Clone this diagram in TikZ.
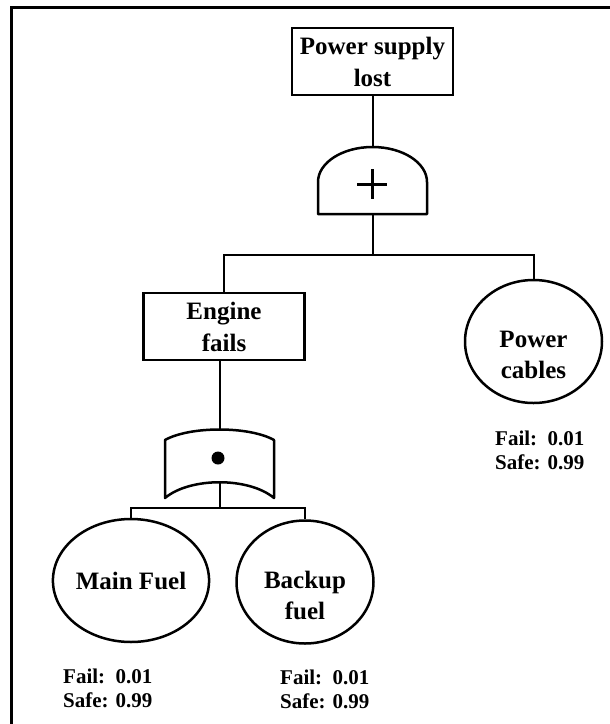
\documentclass[tikz,border=0pt]{standalone}
\usepackage{fontspec}
\setmainfont{Liberation Serif}
\usetikzlibrary{shapes.geometric}
\tikzset{
  event/.style={draw, line width=2.5pt, minimum width=161pt, minimum height=67pt, inner sep=0pt, align=center, font=\bfseries\fontsize{25}{32}\selectfont},
  basic/.style={draw, ellipse, line width=2.5pt, minimum width=137pt, minimum height=123pt, inner sep=0pt, align=center, font=\bfseries\fontsize{25}{32}\selectfont},
  word/.style={inner sep=0pt, align=center, font=\bfseries\fontsize{25}{31}\selectfont},
  gatebox/.style={minimum width=109pt, inner sep=0pt},
  gateline/.style={line width=2.5pt, line join=round},
  wire/.style={line width=2pt},
  prob/.style={anchor=north west, inner sep=0pt, align=left, font=\bfseries\fontsize{21}{24}\selectfont}
}
\begin{document}
\begin{tikzpicture}[x=1pt, y=-1pt]
  \useasboundingbox (0,0) rectangle (610,724);
  \draw[line width=3pt] (11,724) -- (11,7) -- (610,7);
  \node[event] (lost) at (372.5,61.5) {Power supply\\lost};
  \node[gatebox, minimum height=67pt] (orgate) at (372.5,180.5) {};
  \draw[gateline] (318,214) -- (318,182) arc[start angle=180, end angle=0, x radius=54.5pt, y radius=35pt] -- (427,214) -- cycle;
  \draw[line width=3pt] (357,184) -- (387,184) (372,169) -- (372,199);
  \node[event] (engine) at (224,326.5) {Engine\\fails};
  \node[basic] (cables) at (533.5,341.5) {};
  \node[word] (cablestext) at (533.5,355) {Power\\cables};
  \draw[wire] (lost) -- (orgate.north);
  \draw[wire] (orgate.south) -- ++(0,41) -| (engine.north);
  \draw[wire] (orgate.south) -- ++(0,41) -| (cables.north);
  \node[gatebox, minimum height=69pt] (andgate) at (219.5,463.5) {};
  \draw[gateline] (165,498) -- (165,440) .. controls (190,426) and (249,426) .. (274,440) -- (274,498) .. controls (249,477) and (190,477) .. (165,498) -- cycle;
  \fill (218,458) circle (6.5pt);
  \node[basic] (mainfuel) at (131,580.5) {Main Fuel};
  \node[basic] (backup) at (305,582) {};
  \node[word] (backuptext) at (305,595) {Backup\\fuel};
  \draw[wire] (andgate.north |- engine.south) -- (andgate.north);
  \draw[wire] ([yshift=16pt]andgate.south) -- ++(0,26) -| (mainfuel.north);
  \draw[wire] ([yshift=16pt]andgate.south) -- ++(0,26) -| (backup.north);
  \foreach \n/\x/\y in {mainprob/63/669, backupprob/280/670, cablesprob/495/431}
    \node[prob] (\n) at (\x,\y) {Fail:\ \ 0.01\\Safe: 0.99};
\end{tikzpicture}
\end{document}
